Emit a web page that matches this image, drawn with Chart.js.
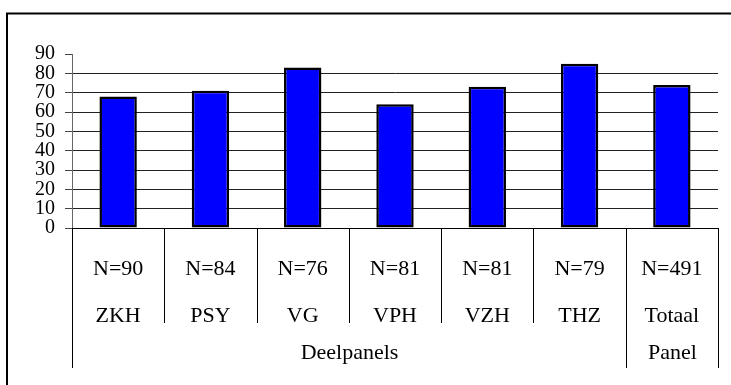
<!DOCTYPE html>
<html>
<head>
<meta charset="utf-8">
<script src="https://cdn.jsdelivr.net/npm/chart.js@4"></script>
<style>
  html, body { margin: 0; padding: 0; background: #fff; }
  #wrap { width: 731px; height: 385px; position: relative; }
</style>
</head>
<body>
<div id="wrap"><canvas id="c" width="731" height="385"></canvas></div>
<script>
const categories = ['ZKH', 'PSY', 'VG', 'VPH', 'VZH', 'THZ', 'Totaal'];
const counts = ['N=90', 'N=84', 'N=76', 'N=81', 'N=81', 'N=79', 'N=491'];
const values = [68, 71, 83, 64, 73, 85, 74];
const yTicks = [0, 10, 20, 30, 40, 50, 60, 70, 80, 90];
const groupNames = ['Deelpanels', 'Panel'];
const groupStart = [0, 6];
const groupEnd = [5, 6];

const FONT = '"Liberation Serif", "Times New Roman", serif';

const tablePlugin = {
  id: 'tablePlugin',
  beforeDraw(chart) {
    const ctx = chart.ctx;
    ctx.save();
    ctx.strokeStyle = '#000';
    ctx.lineWidth = 2;
    ctx.strokeRect(7, 13.5, 800, 500);
    ctx.restore();
  },
  afterDraw(chart) {
    const ctx = chart.ctx;
    const xs = chart.scales.x;
    const area = chart.chartArea;
    const n = categories.length;
    const bounds = [];
    for (let i = 0; i <= n; i++) {
      let x;
      if (i === 0) x = area.left;
      else if (i === n) x = area.right;
      else x = (xs.getPixelForValue(i - 1) + xs.getPixelForValue(i)) / 2;
      bounds.push(Math.round(x) + 0.5);
    }
    const isGroupEdge = (i) => groupStart.includes(i) || groupEnd.map(e => e + 1).includes(i);
    ctx.save();
    ctx.strokeStyle = '#000';
    ctx.lineWidth = 1;
    for (let i = 0; i <= n; i++) {
      const yEnd = isGroupEdge(i) ? 368 : 323;
      ctx.beginPath();
      ctx.moveTo(bounds[i], area.bottom);
      ctx.lineTo(bounds[i], yEnd);
      ctx.stroke();
    }
    ctx.fillStyle = '#000';
    ctx.font = '22px ' + FONT;
    ctx.textAlign = 'center';
    ctx.textBaseline = 'middle';
    for (let g = 0; g < groupNames.length; g++) {
      const cx = (bounds[groupStart[g]] + bounds[groupEnd[g] + 1]) / 2;
      ctx.fillText(groupNames[g], cx, 353);
    }
    ctx.restore();
  }
};

new Chart(document.getElementById('c'), {
  type: 'bar',
  data: {
    labels: categories.map((c, i) => [counts[i], c]),
    datasets: [{
      data: values,
      backgroundColor: '#0000FF',
      borderColor: '#000',
      borderWidth: 2.5,
      borderSkipped: false,
      barPercentage: 0.405,
      categoryPercentage: 1.0
    }]
  },
  options: {
    responsive: false,
    animation: false,
    devicePixelRatio: 1,
    layout: { padding: { top: 54, right: 13, left: 0, bottom: 0 } },
    plugins: { legend: { display: false }, tooltip: { enabled: false }, title: { display: false } },
    scales: {
      x: {
        afterFit(scale) { scale.height = 157; },
        grid: { display: false },
        border: { display: true, color: '#000', width: 1 },
        ticks: {
          color: '#000',
          font: { family: FONT, size: 22, lineHeight: '47px' },
          padding: 9.5,
          maxRotation: 0,
          autoSkip: false
        }
      },
      y: {
        min: 0,
        max: 90,
        afterFit(scale) { scale.width = 72; },
        afterBuildTicks(scale) { scale.ticks = yTicks.map(v => ({ value: v })); },
        grid: {
          color: (c) => (c.tick && c.tick.value === 90) ? 'rgba(0,0,0,0)' : '#222',
          tickColor: '#444',
          tickLength: 7,
          lineWidth: 1
        },
        border: { display: true, color: '#666', width: 1 },
        ticks: {
          color: '#000',
          font: { family: FONT, size: 20, lineHeight: 1 },
          padding: 10,
          autoSkip: false,
          stepSize: 10
        }
      }
    }
  },
  plugins: [tablePlugin]
});
</script>
</body>
</html>
